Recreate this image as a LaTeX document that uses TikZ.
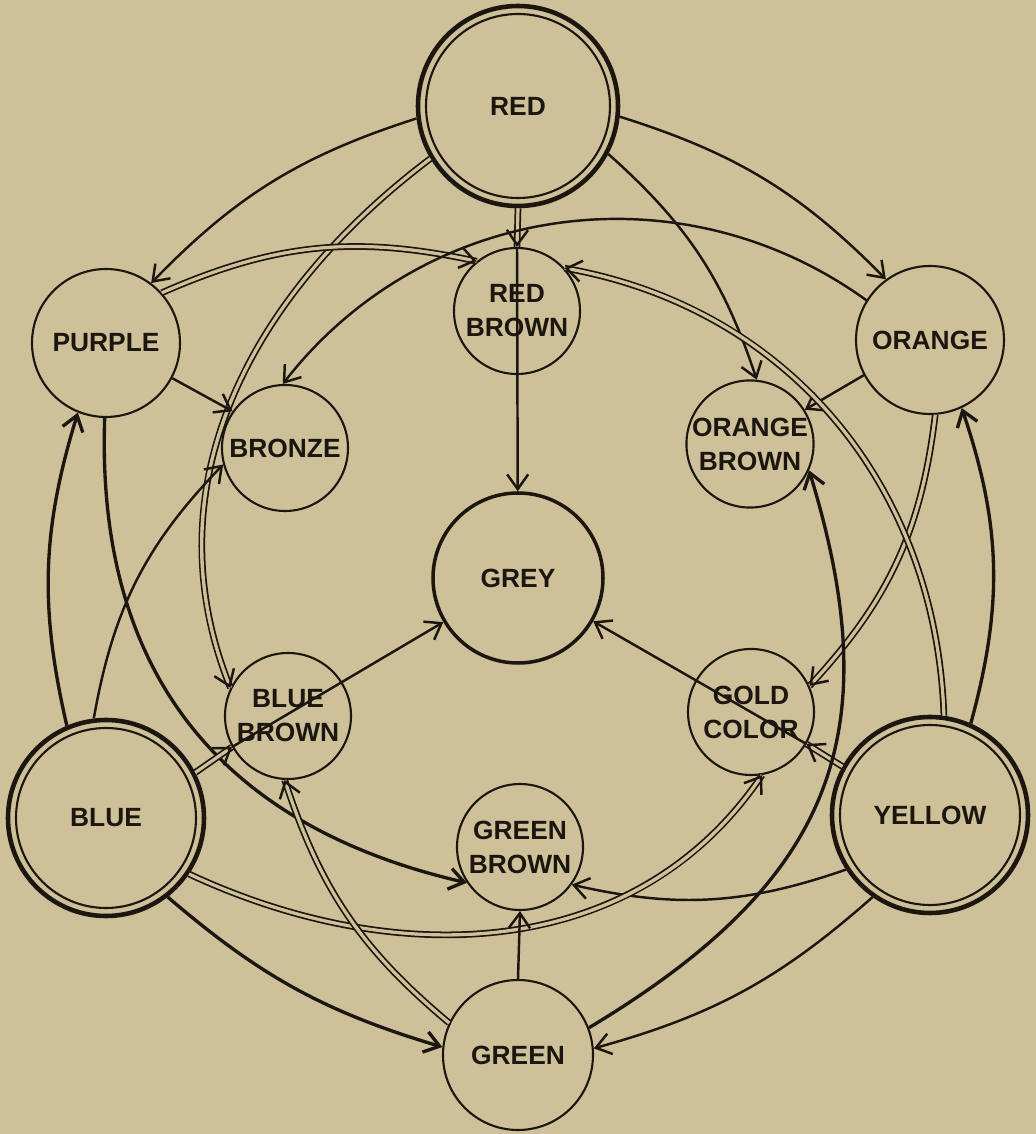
\documentclass[tikz,border=0pt]{standalone}
\usepackage{fontspec}
\setmainfont{Liberation Sans}
\usetikzlibrary{arrows.meta}
\definecolor{paper}{RGB}{206,192,152}
\definecolor{ink}{RGB}{28,22,16}
\tikzset{
  hue/.style={circle,draw=ink,line width=0.6pt,inner sep=0pt,align=center,
    text=ink,font=\fontsize{7.5}{9.7}\selectfont\bfseries},
  primary/.style={hue,line width=1.3pt,minimum size=#1,
    path picture={\draw[ink,line width=0.6pt] (path picture bounding box.center) circle (#1/2-0.08cm);}},
  secondary/.style={hue,minimum size=1.48cm},
  mixed/.style={hue,minimum size=1.26cm},
  dbl/.style={preaction={draw=ink,-,double=paper,double distance=0.9pt,line width=0.5pt},
    draw=paper,line width=0.7pt,-{Straight Barb[ink,length=4.2pt,width=6pt]}},
  heavy/.style={line width=0.95pt}
}
\begin{document}
\begin{tikzpicture}[>={Straight Barb[length=4.2pt,width=6pt]},draw=ink,line width=0.7pt]
\fill[paper] (0,0) rectangle (10.36,11.34);
\useasboundingbox (0,0) rectangle (10.36,11.34);

\node[primary=2cm] (red) at (5.18,10.28) {RED};
\node[primary=1.96cm] (blue) at (1.06,3.16) {BLUE};
\node[primary=1.96cm] (yellow) at (9.30,3.19) {YELLOW};
\node[secondary] (purple) at (1.06,7.91) {PURPLE};
\node[secondary] (orange) at (9.30,7.94) {ORANGE};
\node[secondary,minimum size=1.50cm] (green) at (5.18,0.79) {GREEN};
\node[mixed] (redbrown) at (5.17,8.23) {RED\\BROWN};
\node[mixed] (bronze) at (2.85,6.86) {BRONZE};
\node[mixed] (orangebrown) at (7.50,6.90) {ORANGE\\BROWN};
\node[mixed] (bluebrown) at (2.88,4.18) {BLUE\\BROWN};
\node[mixed] (gold) at (7.51,4.22) {GOLD\\COLOR};
\node[mixed] (greenbrown) at (5.20,2.87) {GREEN\\BROWN};
\node[hue,line width=1pt,minimum size=1.70cm] (grey) at (5.18,5.56) {GREY};

\draw[->] (red.187) to[bend right=14] (purple.53);
\draw[->] (red.-6) to[bend left=14] (orange.126);
\draw[->] (red.-28) to[bend left=15] (orangebrown.84);
\draw[dbl] (red.south) -- (redbrown.north);
\draw[dbl] (red.211) to[out=217,in=112] (bluebrown.154);

\draw[dbl] (purple.42) to[bend left=18] (redbrown.129);
\draw[->] (purple.-28) -- (bronze.145);
\draw[heavy,->] (purple.-91) to[out=-92,in=167,looseness=1.1] (greenbrown.214);

\draw[->] (orange.148) to[bend right=44] (bronze.92);
\draw[->] (orange.208) -- (orangebrown.32);
\draw[dbl] (orange.-86) to[bend left=18] (gold.24);

\draw[dbl] (yellow.82) to[out=92,in=-10] (redbrown.42);
\draw[heavy,->] (yellow.66) to[bend right=17] (orange.-65);
\draw[dbl] (yellow.151) -- (gold.-30);
\draw[->] (yellow.213) to[bend left=16] (greenbrown.-36);
\draw[->] (yellow.235) to[bend left=13] (green.5);

\draw[heavy,->] (blue.113) to[bend left=15] (purple.248);
\draw[->] (blue.97) to[bend left=17] (bronze.195);
\draw[dbl] (blue.27) -- (bluebrown.209);
\draw[dbl] (blue.-34) to[out=-25,in=-124] (gold.-80);
\draw[heavy,->] (blue.-52) to[bend right=12] (green.174);

\draw[dbl] (green.155) to[bend left=16] (bluebrown.267);
\draw[heavy,->] (green.21) to[out=31,in=-73,looseness=1.2] (orangebrown.-24);
\draw[->] (green.north) -- (greenbrown.south);

\draw[->] (redbrown.north) -- (grey);
\draw[->] (bluebrown.209) -- (grey);
\draw[->] (gold.-30) -- (grey);
\end{tikzpicture}
\end{document}
